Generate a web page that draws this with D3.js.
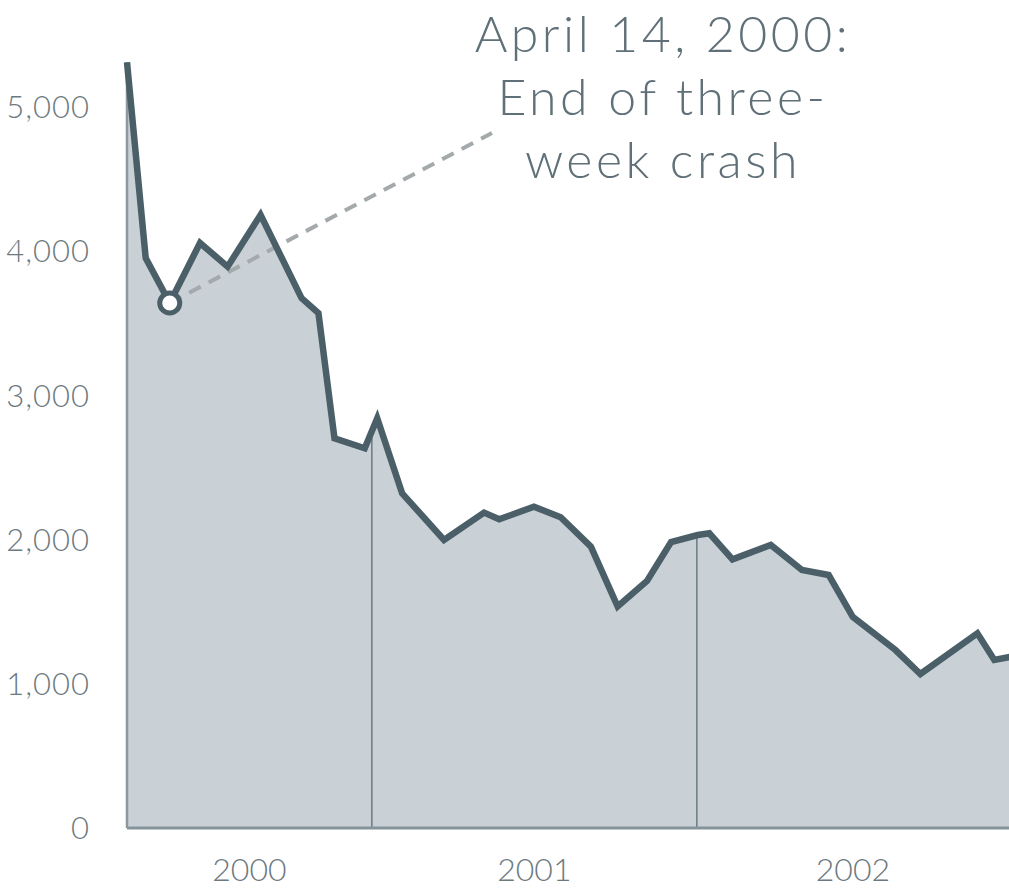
<!DOCTYPE html>
<html>
<head>
<meta charset="utf-8">
<script src="https://cdn.jsdelivr.net/npm/d3@7"></script>
<style>
  body { margin: 0; background: #fff; overflow: hidden; }
  svg { display: block; font-family: Lato, "Noto Sans", sans-serif; font-weight: 300; }
</style>
</head>
<body>
<div id="svg-container"></div>
<script>
// data (index level, roughly every few weeks)
const dates = ["2000-04-01", "2000-04-22", "2000-05-19", "2000-06-22", "2000-07-23", "2000-08-29",
    "2000-10-14", "2000-11-02", "2000-11-20", "2000-12-24", "2001-01-07", "2001-02-04",
    "2001-03-23", "2001-05-07", "2001-05-24", "2001-07-02", "2001-08-01", "2001-09-04",
    "2001-10-04", "2001-11-06", "2001-12-03", "2002-01-02", "2002-01-15", "2002-02-10",
    "2002-03-25", "2002-04-29", "2002-05-29", "2002-06-25", "2002-08-12", "2002-09-09",
    "2002-11-12", "2002-12-01", "2002-12-20"]
const values = [5310, 3953, 3641, 4057, 3893, 4252,
    3675, 3571, 2703, 2633, 2841, 2321,
    1997, 2187, 2141, 2228, 2155, 1951,
    1536, 1713, 1983, 2032, 2044, 1863,
    1963, 1789, 1755, 1465, 1234, 1068,
    1350, 1165, 1188]
const yTicks = [0, 1000, 2000, 3000, 4000, 5000]
const years = [2000, 2001, 2002]
const noteLines = ["April 14, 2000:", "End of three-", "week crash"]
const noteIndex = 2

const width = 1009
const height = 890
const margin = { top: 107, bottom: 62, left: 127 }

const parse = d3.timeParse("%Y-%m-%d")
const data = dates.map((d, i) => ({ date: parse(d), value: values[i] }))

const svg = d3.select('#svg-container')
    .append('svg').attr('width', width).attr('height', height)

const x = d3.scaleTime()
    .domain([parse("2000-04-01"), parse("2002-12-31")])
    .range([margin.left, 1021])
const y = d3.scaleLinear()
    .domain([0, 5000])
    .range([height - margin.bottom, margin.top])

// area under the line
const area = d3.area()
    .x(d => x(d.date))
    .y0(y(0))
    .y1(d => y(d.value))
svg.append('path').datum(data)
    .attr('d', area)
    .attr('fill', '#c9d1d6')

// year separators, up to the line
const interp = date => {
    const i = d3.bisector(d => d.date).left(data, date)
    const a = data[i - 1], b = data[i]
    const t = (date - a.date) / (b.date - a.date)
    return a.value + t * (b.value - a.value)
}
years.slice(1).forEach(yr => {
    const d = new Date(yr, 0, 1)
    svg.append('line')
        .attr('x1', x(d)).attr('x2', x(d))
        .attr('y1', y(0)).attr('y2', y(interp(d)))
        .attr('stroke', '#52656e').attr('stroke-width', 1.2)
})

// axes lines
svg.append('line')
    .attr('x1', margin.left).attr('x2', width)
    .attr('y1', y(0)).attr('y2', y(0))
    .attr('stroke', '#86949a').attr('stroke-width', 3)
svg.append('line')
    .attr('x1', margin.left).attr('x2', margin.left)
    .attr('y1', y(0)).attr('y2', y(values[0]))
    .attr('stroke', '#8c999f').attr('stroke-width', 2.5)

// y tick labels
svg.append('g').selectAll('text').data(yTicks)
    .enter().append('text')
    .attr('x', 90)
    .attr('y', d => y(d))
    .attr('dy', '0.36em')
    .attr('text-anchor', 'end')
    .attr('font-size', 31)
    .attr('letter-spacing', 1)
    .attr('fill', '#6c797f')
    .text(d => d3.format(',')(d))

// year labels centred in the visible part of each year
svg.append('g').selectAll('text').data(years)
    .enter().append('text')
    .attr('x', d => {
        const a = Math.max(x(new Date(d, 0, 1)), margin.left)
        const b = Math.min(x(new Date(d + 1, 0, 1)), width)
        return (a + b) / 2
    })
    .attr('y', 881)
    .attr('text-anchor', 'middle')
    .attr('font-size', 32)
    .attr('fill', '#6c797f')
    .text(d => d)

// dashed pointer to the note
const p = data[noteIndex]
svg.append('line')
    .attr('x1', x(p.date)).attr('y1', y(p.value))
    .attr('x2', 492).attr('y2', 133)
    .attr('stroke', '#a4a9ac').attr('stroke-width', 4)
    .attr('stroke-dasharray', '13 9')

// the line itself
const line = d3.line()
    .x(d => x(d.date))
    .y(d => y(d.value))
svg.append('path').datum(data)
    .attr('d', line)
    .attr('fill', 'none')
    .attr('stroke', '#4b5f69')
    .attr('stroke-width', 6.5)

svg.append('circle')
    .attr('cx', x(p.date)).attr('cy', y(p.value))
    .attr('r', 10)
    .attr('fill', '#fff')
    .attr('stroke', '#4b5f69')
    .attr('stroke-width', 5)

// note text
svg.append('g').selectAll('text').data(noteLines)
    .enter().append('text')
    .attr('x', 663)
    .attr('y', (d, i) => 52 + i * 63)
    .attr('text-anchor', 'middle')
    .attr('font-size', 50)
    .attr('letter-spacing', 3.5)
    .attr('fill', '#607078')
    .text(d => d)
</script>
</body>
</html>
